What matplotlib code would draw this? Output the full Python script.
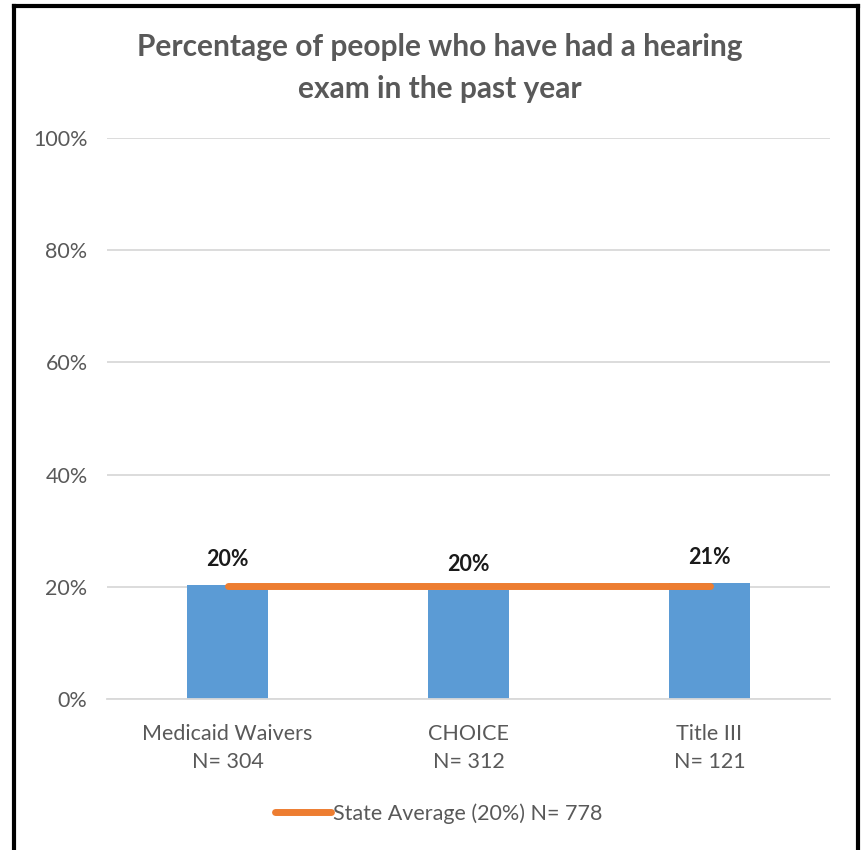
import matplotlib.pyplot as plt
from matplotlib.lines import Line2D

categories = ['Medicaid Waivers\nN= 304', 'CHOICE\nN= 312', 'Title III\nN= 121']
values = [20.4, 19.5, 20.7]
bar_labels = ['20%', '20%', '21%']
state_avg = 20.2
legend_label = 'State Average (20%) N= 778'
title = 'Percentage of people who have had a hearing\nexam in the past year'

plt.rcParams['font.family'] = ['Lato', 'DejaVu Sans']
gray = '#595959'

fig = plt.figure(figsize=(8.61, 8.5), dpi=100)
ax = fig.add_axes([0.1243, 0.1776, 0.8397, 0.66])

x = range(len(categories))
ax.bar(x, values, width=0.336, color='#5b9bd5', zorder=2)
line, = ax.plot(x, [state_avg] * len(categories), color='#ed7d31', lw=5,
                solid_capstyle='round', zorder=3, label=legend_label)

for i, (v, lab) in enumerate(zip(values, bar_labels)):
    ax.annotate(lab, (i, v), xytext=(0, 18), textcoords='offset points',
                ha='center', va='center', fontsize=15.5, fontweight='bold',
                color='#1a1a1a')

ax.set_xlim(-0.5, 2.5)
ax.set_ylim(0, 100)
ax.set_yticks(range(0, 101, 20))
ax.set_yticklabels([f'{t}%' for t in range(0, 101, 20)])
ax.set_xticks(list(x))
ax.set_xticklabels(categories, linespacing=1.5)
ax.yaxis.grid(True, color='#d9d9d9', lw=1.3, zorder=0)
ax.set_axisbelow(True)
for s in ax.spines.values():
    s.set_visible(False)
ax.spines['bottom'].set_visible(True)
ax.spines['bottom'].set_color('#d9d9d9')
ax.spines['bottom'].set_linewidth(1.3)
ax.tick_params(axis='both', length=0, colors=gray, labelsize=15.5)
ax.tick_params(axis='y', pad=14)
ax.tick_params(axis='x', pad=18)

fig.text(0.511, 0.92, title, ha='center', va='center', fontsize=21.5,
         fontweight='bold', color=gray, linespacing=1.6)

leg = fig.legend(handles=[line], loc='center', bbox_to_anchor=(0.51, 0.043),
                 frameon=False, fontsize=15.5, handlelength=2.6, handletextpad=0.1)
for t in leg.get_texts():
    t.set_color(gray)

# black frame around the chart (open at the bottom)
fig.add_artist(Line2D([0.0168, 0.0168], [0, 0.9925], color='black', lw=3,
                      transform=fig.transFigure))
fig.add_artist(Line2D([0.0168, 0.9965], [0.9925, 0.9925], color='black', lw=3,
                      transform=fig.transFigure))
fig.add_artist(Line2D([0.9965, 0.9965], [0, 0.9925], color='black', lw=3,
                      transform=fig.transFigure))

fig.savefig('out.png', dpi=100, facecolor='white')
